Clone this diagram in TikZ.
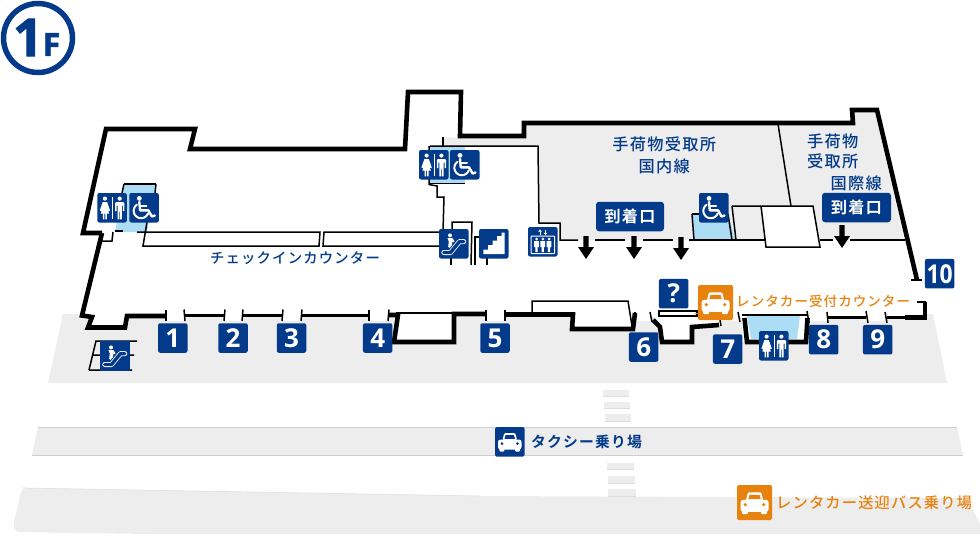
\documentclass[tikz,border=0pt]{standalone}
\usepackage{fontspec}
\newfontfamily\jp[LetterSpace=8]{Noto Sans CJK JP Medium}
\newfontfamily\jpb[LetterSpace=8]{Noto Sans CJK JP Bold}
\newfontfamily\numf{Open Sans Bold}
\newfontfamily\numh[FakeBold=2]{Open Sans Bold}
\definecolor{navy}{HTML}{033B8A}
\definecolor{org}{HTML}{E8820E}
\definecolor{lblue}{HTML}{ADDCF5}
\definecolor{gfl}{HTML}{EDEDED}
\definecolor{gln}{HTML}{CFCFCF}
\tikzset{
 wall/.style={line width=4.6pt,line join=miter,line cap=butt},
 mid/.style={line width=3pt,line join=miter},
 thin/.style={line width=1.5pt,line join=miter},
 badge/.style={fill=navy,rounded corners=2pt,text=white,inner sep=0pt,minimum size=29.5pt,font=\numf\fontsize{26}{26}\selectfont},
 sign/.style={fill=navy,rounded corners=3pt,text=white,inner sep=0pt,minimum height=29.5pt,font=\jpb\fontsize{16}{16}\selectfont},
 lab/.style={text=navy,inner sep=0pt,font=\jp\fontsize{16.2}{16}\selectfont},
 olab/.style={text=org,inner sep=0pt,font=\jp\fontsize{14}{15}\selectfont},
 ic/.style={fill=navy,rounded corners=2pt,draw=none},
 wh/.style={fill=white,draw=none},
}
\newcommand{\toiletic}[2]{\begin{scope}[shift={(#1,#2)}]
 \fill[ic] (0,0) rectangle (29.5,29.5);
 \fill[wh] (7.6,5.6) circle (2.1);
 \fill[wh] (5.4,9) -- (9.8,9) -- (12.8,17.6) -- (11.2,18) -- (9.6,13.5) -- (11.8,20.5) -- (9.6,20.5) -- (9.6,26.3) -- (8.1,26.3) -- (8.1,20.5) -- (7.1,20.5) -- (7.1,26.3) -- (5.6,26.3) -- (5.6,20.5) -- (3.4,20.5) -- (5.6,13.5) -- (4,18) -- (2.4,17.6) -- cycle;
 \fill[wh] (15,4) rectangle (15.7,26);
 \fill[wh] (22.4,5.6) circle (2.1);
 \fill[wh] (19,9) -- (25.8,9) -- (27,10) -- (27,18.2) -- (25.5,18.2) -- (25.5,12.5) -- (24.6,12.5) -- (24.6,26.3) -- (22.9,26.3) -- (22.9,18.5) -- (22,18.5) -- (22,26.3) -- (20.3,26.3) -- (20.3,12.5) -- (19.4,12.5) -- (19.4,18.2) -- (17.9,18.2) -- (17.9,10) -- cycle;
 \end{scope}}
\newcommand{\wheelic}[2]{\begin{scope}[shift={(#1,#2)}]
 \fill[ic] (0,0) rectangle (29.5,29.5);
 \fill[wh] (10,5.4) circle (2.4);
 \draw[white,line width=2.4pt,line cap=round,line join=round] (10,9) -- (10.8,17.3) -- (19,17.3) -- (22.6,23.5) -- (25.5,22.5);
 \draw[white,line width=2pt,line cap=round] (10.5,13) -- (17,13);
 \draw[white,line width=2pt,line cap=round] plot[domain=235:20,samples=24,smooth] ({11.8+7.4*cos(\x)},{17.8+7.4*sin(\x)});
 \end{scope}}
\newcommand{\caric}[4]{\begin{scope}[shift={(#1,#2)},scale=#3]
 \fill[#4,rounded corners=1.5pt] (0,0) rectangle (29.5,29.5);
 \fill[white,rounded corners=1pt] (7.5,13) -- (9.2,6.2) -- (20.3,6.2) -- (22,13) -- cycle;
 \fill[#4] (10.6,8.2) -- (18.9,8.2) -- (20,11.8) -- (9.5,11.8) -- cycle;
 \fill[white,rounded corners=2.5pt] (3,12.5) rectangle (26.5,22.5);
 \fill[white,rounded corners=1pt] (4.3,20) rectangle (9.3,24.5);
 \fill[white,rounded corners=1pt] (20.2,20) rectangle (25.2,24.5);
 \fill[#4] (7,16.5) circle (1.5);
 \fill[#4] (22.5,16.5) circle (1.5);
 \end{scope}}
\newcommand{\escic}[3]{\begin{scope}[shift={(#1,#2)}]
 \fill[navy,rounded corners=#3] (0,0) rectangle (29.5,29.5);
 \draw[white,line width=5pt,line cap=round,line join=round] (4.8,23.5) -- (11.5,23.5) -- (20.5,12.6) -- (24.8,12.6);
 \draw[navy,line width=3.4pt,line cap=round,line join=round] (4.8,23.5) -- (11.5,23.5) -- (20.5,12.6) -- (24.8,12.6);
 \fill[wh] (11,6.4) circle (2);
 \fill[wh] (8.5,9.2) -- (13.5,9.2) -- (15.6,12.3) -- (14,13.4) -- (13.2,12.4) -- (13.2,15.8) -- (10.4,19) -- (9.2,17.5) -- (9.8,12.5) -- cycle;
 \end{scope}}
\newcommand{\downarrowic}[2]{\fill[black] (#1-2.6,#2) -- (#1+2.6,#2) -- (#1+2.6,#2+11) -- (#1+8,#2+11) -- (#1,#2+23) -- (#1-8,#2+11) -- (#1-2.6,#2+11) -- cycle;}
\begin{document}
\begin{tikzpicture}[x=1pt,y=-1pt,line cap=butt]
\useasboundingbox (0,0) rectangle (980,557);
% ground bands
\fill[gfl] (63,314) -- (933,314) -- (947,383) -- (48,383) -- cycle;
\fill[gfl] (38,427) -- (957,427) -- (963,455) -- (32,455) -- cycle;
\draw[gln,line width=.9pt] (38,427) -- (957,427);
\draw[gln,line width=.9pt] (32,455.3) -- (963,455.3);
\fill[gfl,rounded corners=4pt] (22,488) -- (480,496) -- (967,498) -- (985,534) -- (149,534) -- (16,532) -- (13,526) -- cycle;
\draw[gln!60,line width=.7pt] (22,488) -- (480,496);
% crossing stripes
\foreach \a/\b/\c/\d in {603/629/390/396,604/630/402/408,605/631/413.5/421,607/634/463/469.5,607.5/635/476/483,608/636/489/496}{
 \fill[gfl] (\a,\c) rectangle (\b,\d);
 \draw[gln!70,line width=.5pt] (\a,\d) -- (\b,\d);}
% floor interior white
\fill[white] (106,129) -- (195,129) -- (190,149) -- (405,149) -- (408,92) -- (461,92) -- (460,136) -- (524,136) -- (524,123) -- (852,123) -- (852,110) -- (877,110) -- (917,280) -- (925,317) -- (88,317) -- (102,233) -- (83,233) -- cycle;
% door patches & recess boxes
\foreach \a/\b in {166/184,225/243,283/302,369/389,486/505,636/651,721/739,807/828,866/887}{\fill[white] (\a,314) rectangle (\b,321);}
\fill[white] (88,315) -- (92,317) -- (88,327) -- (125,327) -- (127,314) -- cycle;
\fill[white] (396,312) rectangle (454,342);
\fill[white] (573,312) rectangle (632,329);
\fill[white] (653,312) -- (725,312) -- (720,325) -- (692,327) -- (692,342) -- (662,342) -- (660,327) -- cycle;
\fill[white] (742,312) rectangle (807,342);
% grey rooms
\fill[gfl] (443,137) -- (460,138) -- (526,138) -- (526,125) -- (854,125) -- (854,112) -- (875,112) -- (904,240) -- (560,240) -- (560,223) -- (539,223) -- (538,146) -- (443,146) -- cycle;
% light-blue rooms
\fill[lblue] (124,184) -- (156,184) -- (147,232) -- (115,232) -- cycle;
\fill[lblue] (430,147) rectangle (465,184);
\fill[lblue] (692,214) -- (728,214) -- (735.5,240) -- (694,240) -- cycle;
\fill[lblue] (747,316) -- (800,316) -- (797,339) -- (751,339) -- cycle;
% white box in intl area
\fill[white] (761,206) -- (813,206) -- (820,247) -- (766,247) -- cycle;
% thick walls
\draw[wall] (102,233) -- (82,315.5) -- (92,317) -- (88,327.5) -- (125,327.5) -- (127,316) -- (166,316);
\draw[wall,line join=miter] (102,233) -- (83,233) -- (106,129) -- (195,129) -- (190,149) -- (405,149) -- (408,92) -- (461,92) -- (460,136) -- (524,136) -- (524,123) -- (853,123) -- (852,110) -- (877,110) -- (917,280);
\draw[mid] (184,315.5) -- (225,315.5) (243,315.5) -- (283,315.5) (302,315.5) -- (369,315.5);
\draw[wall] (389,315) -- (398,315) -- (394,342) -- (454,342) -- (454,314) -- (486,314);
\draw[wall] (505,314.5) -- (573,314.5) -- (572,329) -- (633,329) -- (635,313);
\draw[wall] (653,320) -- (660,327) -- (662,342) -- (692,342) -- (692,327) -- (719,325);
\draw[wall] (744.5,318) -- (747,342) -- (806,342) -- (807.5,318);
\draw[mid] (827,317) -- (866,317) (887,317) -- (925,317);
\draw[wall] (925,302) -- (925,317.5) -- (905,317.5);
% door ticks
\foreach \a/\b in {166/166,184/185,225/224,243/242,283/282,302/301,369/369,389/388,486/486,505/505}{\draw[thin] (\a,309.5) -- (\b,321);}
\draw[thin] (635,312) -- (635,322);
\draw[thin] (650,312) -- (652,322);
\draw[thin] (720,320) -- (721,326);
\draw[thin] (738,312) -- (740,322);
\draw[thin] (807,311) -- (809,323) (827,312) -- (828,323) (866,311) -- (868,323) (885,312) -- (887,323);
\draw[thin] (911,280) -- (922,280);
\draw[thin] (917,302) -- (926,302);
% thin interior lines
\draw[thin] (742,315) -- (807,315);
\draw[thin] (396,313) -- (452,313);
\draw[thin] (532,314) -- (532,301) -- (628,301) -- (632,326);
\draw[thin,fill=white] (659,311) rectangle (697,316);
\draw[org,line width=1.6pt] (695,313.5) -- (700,313.5);
\draw[thin] (124,184) -- (156,184);
\draw[thin] (124,184) -- (122,193);
\draw[thin] (156,184) -- (155,193);
\draw[thin] (113,232) -- (112,241) -- (102,241);
\draw[thin] (115,231) -- (123,231);
\draw[thin] (137,232) -- (320,232) -- (319,246) -- (143,246) -- (147,222);
\draw[thin] (440,232) -- (324,232) -- (323,246) -- (440,246);
\draw[thin] (443,146) -- (443,137);
\draw[thin] (430,146) -- (538,146) -- (539,223) -- (560,223) -- (560,240) -- (578,240);
\draw[thin] (595,240) -- (625,240) (643,240) -- (673,240) (689,240) -- (765,240) (820,240) -- (833,240) (850,240) -- (905,240);
\draw[thin] (429,146) -- (429,184.5) -- (437,186) -- (437,197) -- (444,197) -- (443,231);
\draw[thin] (429,183.5) -- (465,183.5);
\draw[thin] (452,231) -- (452,222) -- (472,222) -- (471,265);
\draw[thin] (475,265) -- (475,237) -- (479,237);
\draw[thin] (451,257) -- (451,265) (487,257) -- (487,265);
\draw[thin] (778,124) -- (791,206);
\draw[thin] (692,214) -- (728,214);
\draw[thin] (692,214) -- (694,240);
\draw[thin] (728,214) -- (732,240);
\draw[thin] (732,206) -- (813,206) -- (820,247) -- (766,247) -- (761,206);
\draw[thin] (732,206) -- (736,240);
% arrows
\downarrowic{586}{236}
\downarrowic{634}{236}
\downarrowic{681}{237}
\downarrowic{842}{225}
% bottom-left escalator lines
\draw[thin] (95,341) -- (137,341) (92,355) -- (134,355) (89,370) -- (132,370) (96,341) -- (89,370);
% icons
\toiletic{97.3}{193}
\wheelic{129.3}{193}
\toiletic{419}{150}
\wheelic{450}{150}
\wheelic{699}{193}
\toiletic{759}{331}
\escic{439}{229}{2pt}
\escic{100}{341}{0pt}
% stairs
\begin{scope}[shift={(479,229)}]
 \fill[ic] (0,0) rectangle (29.5,29.5);
 \fill[wh] (4.3,25) -- (4.3,20.5) -- (9,20.5) -- (9,16) -- (13.5,16) -- (13.5,11.5) -- (18,11.5) -- (18,7) -- (22.5,7) -- (22.5,3.5) -- (25.5,3.5) -- (25.5,25) -- cycle;
\end{scope}
% elevator
\begin{scope}[shift={(528,227)}]
 \fill[ic] (0,0) rectangle (29.5,29.5);
 \draw[white,line width=1pt,rounded corners=.5pt] (3,9) rectangle (26.5,26.5);
 \foreach \c in {8.5,14.75,21}{
 \fill[wh] (\c,12) circle (1.5);
 \fill[wh] (\c-2.4,14) -- (\c+2.4,14) -- (\c+2.4,20) -- (\c+1.2,20) -- (\c+1.2,25) -- (\c-1.2,25) -- (\c-1.2,20) -- (\c-2.4,20) -- cycle;}
 \draw[white,line width=.7pt] (12,3) -- (12,7.5) (17.5,3) -- (17.5,7.5);
 \fill[wh] (10.2,4.6) -- (12,2.4) -- (13.8,4.6) -- cycle;
 \fill[wh] (15.7,5.9) -- (17.5,8.1) -- (19.3,5.9) -- cycle;
\end{scope}
% cars
\caric{495}{427}{1}{navy}
\caric{698}{285}{1.19}{org}
\caric{737}{485}{1.19}{org}
% number badges
\node[badge] (n1) at (172.8,338) {1};
\node[badge] (n2) at (233,338) {2};
\node[badge] (n3) at (291.5,338) {3};
\node[badge] (n4) at (377.7,338) {4};
\node[badge] (n5) at (495,338) {5};
\node[badge] (n6) at (643.7,347) {6};
\node[badge] (n7) at (727.7,349) {7};
\node[badge] (n8) at (823.7,339.7) {8};
\node[badge] (n9) at (877.7,339.7) {9};
\node[badge] (n10) at (939.7,273.7) {\scalebox{.88}[1]{10}};
\node[badge] (nq) at (673.7,293.7) {?};
% arrival signs
\node[sign,minimum width=68pt] (a1) at (630,216.5) {到着口};
\node[sign,minimum width=69pt] (a2) at (856.5,207.5) {到着口};
% labels
\node[lab] (t1) at (664.3,144) {手荷物受取所};
\node[lab] (t2) at (664.3,166) {国内線};
\node[lab,anchor=west] (t3) at (807,141) {手荷物};
\node[lab,anchor=west] (t4) at (807,161) {受取所};
\node[lab,anchor=west] (t5) at (830.5,183) {国際線};
\node[lab,font=\jp\fontsize{14.4}{15}\selectfont] (t6) at (295,258.5) {チェックインカウンター};
\node[lab,anchor=west,font=\jpb\fontsize{14.8}{15}\selectfont] (t7) at (531,442) {タクシー乗り場};
\node[olab,anchor=west,font=\jp\fontsize{13.5}{14}\selectfont] (t8) at (736,301.5) {レンタカー受付カウンター};
\node[olab,anchor=west,font=\jp\fontsize{15.2}{15}\selectfont] (t9) at (776,503) {レンタカー送迎バス乗り場};
% 1F
\draw[navy,line width=5.5pt,fill=white] (38,38) circle (34.5);
\node[text=navy,inner sep=0pt,font=\numh\fontsize{52}{52}\selectfont] (f1) at (28,37.5) {1};
\node[text=navy,inner sep=0pt,font=\numh\fontsize{32}{32}\selectfont] (f2) at (51.5,44.5) {F};
\end{tikzpicture}
\end{document}
